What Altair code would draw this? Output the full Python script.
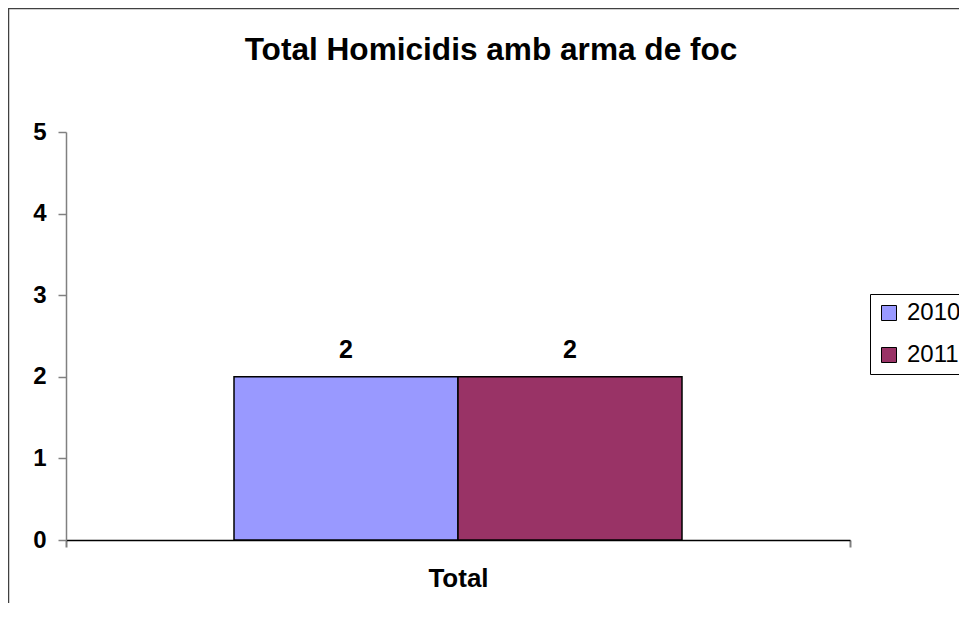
import altair as alt
import pandas as pd

categories = ["Total", "Total"]
years = ["2010", "2011"]
values = [2, 2]
colors = ["#9999FF", "#993366"]
y_ticks = [0, 1, 2, 3, 4, 5]
title_text = "Total Homicidis amb arma de foc"

df = pd.DataFrame({"cat": categories, "year": years, "value": values})
FONT = "Liberation Sans"

base = alt.Chart(df).encode(
    x=alt.X(
        "cat:N",
        title=None,
        scale=alt.Scale(paddingInner=0, paddingOuter=0),
        axis=alt.Axis(
            labelAngle=0, labelFont=FONT, labelFontSize=26, labelFontWeight="bold",
            labelColor="black", labelPadding=18, domainColor="black", domainWidth=1.5,
            tickBand="extent", tickSize=7, tickColor="#808080", tickWidth=2, grid=False,
        ),
    ),
    xOffset=alt.XOffset("year:N", scale=alt.Scale(paddingInner=0, paddingOuter=0.75)),
    y=alt.Y(
        "value:Q",
        title=None,
        scale=alt.Scale(domain=[0, 5], nice=False),
        axis=alt.Axis(
            values=y_ticks, labelFont=FONT, labelFontSize=24, labelFontWeight="bold",
            labelColor="black", labelPadding=12, domainColor="#808080", domainWidth=1.5,
            tickColor="#808080", tickSize=8, tickWidth=1.5, grid=False,
        ),
    ),
)

bars = base.mark_bar(stroke="black", strokeWidth=1.5).encode(
    color=alt.Color(
        "year:N",
        scale=alt.Scale(domain=years, range=colors),
        legend=alt.Legend(
            title=None, orient="none", legendX=804, legendY=162,
            strokeColor="black", padding=7, symbolType="square", symbolSize=225,
            symbolStrokeColor="black", symbolStrokeWidth=1,
            labelFont=FONT, labelFontSize=24, labelColor="black",
            labelOffset=6, rowPadding=18,
        ),
    )
)

labels = base.mark_text(
    dy=-19, baseline="alphabetic", font=FONT, fontSize=25, fontWeight="bold", color="black"
).encode(text="value:Q")

border = alt.Chart(pd.DataFrame({"a": [0]})).mark_rect(
    fillOpacity=0, stroke="#404040", strokeWidth=1.5
).encode(
    x=alt.value(-57.5), x2=alt.value(1000), y=alt.value(-123.5), y2=alt.value(600)
)

chart = alt.layer(border, bars, labels).properties(
    width=784,
    height=408,
    padding={"left": 58, "top": 124, "right": 109, "bottom": 63},
    autosize=alt.AutoSizeParams(type="none"),
    background="white",
    title=alt.TitleParams(
        title_text, font=FONT, fontSize=31.6, fontWeight="bold", color="black",
        anchor="middle", frame="group", dx=33, offset=-58.5,
    ),
).configure_view(strokeWidth=0)

chart.save("out.html", embed_options={"renderer": "svg", "actions": False})
